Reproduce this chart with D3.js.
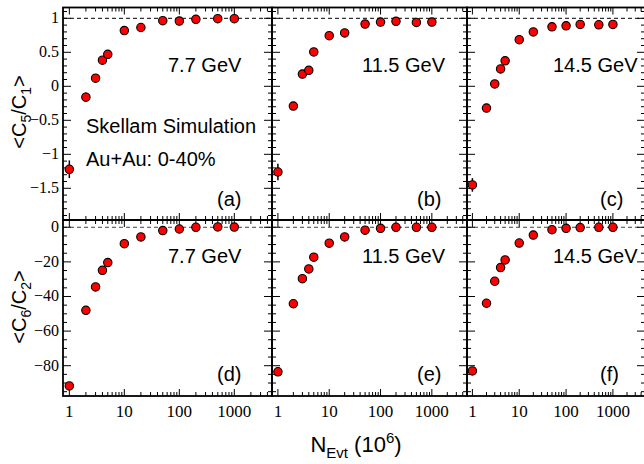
<!DOCTYPE html>
<html>
<head>
<meta charset="utf-8">
<script src="https://cdn.jsdelivr.net/npm/d3@7"></script>
<style>
  body { margin: 0; background: #fff; }
  svg { display: block; }
</style>
</head>
<body>
<svg id="chart" width="644" height="464"></svg>
<script>
// data
var nEvt = [1, 2, 3, 4, 5, 10, 20, 50, 100, 200, 500, 1000];
var energies = ["7.7 GeV", "11.5 GeV", "14.5 GeV"];
var panelTags = [["(a)", "(b)", "(c)"], ["(d)", "(e)", "(f)"]];

var c51_77  = [-1.22, -0.16, 0.12, 0.385, 0.47, 0.82, 0.865, 0.965, 0.96, 0.985, 0.995, 0.995];
var c51_115 = [-1.26, -0.29, 0.18, 0.235, 0.505, 0.745, 0.785, 0.915, 0.945, 0.955, 0.94, 0.945];
var c51_145 = [-1.45, -0.32, 0.035, 0.255, 0.375, 0.685, 0.80, 0.875, 0.89, 0.91, 0.905, 0.91];
var e51_77  = [0.13, 0.07, 0.05, 0.03, 0.03, 0.02, 0.015, 0.01, 0.01, 0.01, 0.01, 0.01];
var e51_115 = [0.12, 0.05, 0.03, 0.02, 0.02, 0.015, 0.01, 0.01, 0.01, 0.01, 0.01, 0.01];
var e51_145 = [0.1, 0.05, 0.03, 0.02, 0.02, 0.015, 0.01, 0.01, 0.01, 0.01, 0.01, 0.01];

var c62_77  = [-91.7, -48, -34.5, -24.9, -20.4, -9.5, -5.6, -1.9, -1.0, 0, 0.2, 0.1];
var c62_115 = [-83.5, -44.2, -29.7, -24.1, -17.3, -9.2, -5.6, -1.7, -0.6, 0, 0, 0];
var c62_145 = [-83, -43.9, -31.2, -23.3, -18.9, -9.1, -4.5, -1.4, -0.6, -0.2, 0, 0];
var e62_77  = [2, 1, 0.8, 0.6, 0.5, 0.3, 0.2, 0.1, 0.1, 0.1, 0.1, 0.1];
var e62_115 = [2, 1, 0.8, 0.6, 0.5, 0.3, 0.2, 0.1, 0.1, 0.1, 0.1, 0.1];
var e62_145 = [2, 1, 0.8, 0.6, 0.5, 0.3, 0.2, 0.1, 0.1, 0.1, 0.1, 0.1];

var yTicksTop = [-1.5, -1, -0.5, 0, 0.5, 1];
var yTicksBot = [-80, -60, -40, -20, 0];
var xTickLabels = [1, 10, 100, 1000];

var rowVals = [[c51_77, c51_115, c51_145], [c62_77, c62_115, c62_145]];
var rowErrs = [[e51_77, e51_115, e51_145], [e62_77, e62_115, e62_145]];
var refLine = [1, 0];

// layout
var cols = [[63, 272], [272, 467], [467, 645]];
var rows = [[7.5, 220], [220, 396]];
var xDom = [0.767, 4842];
var yDoms = [[-1.966, 1.159], [-97.5, 4.2]];
var yMinorStep = [0.1, 5];

var svg = d3.select("#chart");
svg.append("rect").attr("width", 644).attr("height", 464).attr("fill", "#fff");

var sans = "'Liberation Sans', Arial, Helvetica, sans-serif";
var serif = "'Liberation Serif', 'Times New Roman', serif";

function fmtY(v) {
  return (v < 0 ? "\u2212" : "") + Math.abs(v);
}

for (var r = 0; r < 2; r++) {
  for (var c = 0; c < 3; c++) {
    var x0 = cols[c][0], x1 = cols[c][1];
    var y0 = rows[r][0], y1 = rows[r][1];
    var x = d3.scaleLog().domain(xDom).range([x0, x1]);
    var y = d3.scaleLinear().domain(yDoms[r]).range([y1, y0]);
    var g = svg.append("g");

    // dashed reference line
    g.append("line")
      .attr("x1", x0).attr("x2", x1)
      .attr("y1", y(refLine[r])).attr("y2", y(refLine[r]))
      .attr("stroke", r == 0 ? "#000" : "#444")
      .attr("stroke-width", 1)
      .attr("stroke-dasharray", "4,3");

    // x ticks, top and bottom, pointing in
    var xt = [];
    for (var d = 0; d <= 3; d++) {
      for (var k = 1; k <= 9; k++) xt.push({v: k * Math.pow(10, d), major: k == 1});
    }
    xt.push({v: 10000, major: true});
    xt = xt.filter(function(t) { return t.v >= xDom[0] && t.v <= xDom[1]; });
    g.selectAll(null).data(xt).enter().append("line")
      .attr("x1", function(t) { return x(t.v); })
      .attr("x2", function(t) { return x(t.v); })
      .attr("y1", y1)
      .attr("y2", function(t) { return y1 - (t.major ? 7 : 4); })
      .attr("stroke", "#000").attr("stroke-width", 1);
    g.selectAll(null).data(xt).enter().append("line")
      .attr("x1", function(t) { return x(t.v); })
      .attr("x2", function(t) { return x(t.v); })
      .attr("y1", y0)
      .attr("y2", function(t) { return y0 + (t.major ? 7 : 4); })
      .attr("stroke", "#000").attr("stroke-width", 1);

    // y ticks, left and right
    var yMajor = r == 0 ? yTicksTop : yTicksBot;
    var yt = [];
    var st = yMinorStep[r];
    var first = Math.ceil(yDoms[r][0] / st), last = Math.floor(yDoms[r][1] / st);
    for (var i = first; i <= last; i++) {
      var v = +(i * st).toFixed(3);
      var isMajor = yMajor.some(function(m) { return Math.abs(m - v) < 1e-6; });
      yt.push({v: v, major: isMajor});
    }
    g.selectAll(null).data(yt).enter().append("line")
      .attr("x1", x0)
      .attr("x2", function(t) { return x0 + (t.major ? 8 : 4); })
      .attr("y1", function(t) { return y(t.v); })
      .attr("y2", function(t) { return y(t.v); })
      .attr("stroke", "#000").attr("stroke-width", 1);
    g.selectAll(null).data(yt).enter().append("line")
      .attr("x1", x1)
      .attr("x2", function(t) { return x1 - (t.major ? 8 : 4); })
      .attr("y1", function(t) { return y(t.v); })
      .attr("y2", function(t) { return y(t.v); })
      .attr("stroke", "#000").attr("stroke-width", 1);

    // frame
    g.append("rect")
      .attr("x", x0).attr("y", y0)
      .attr("width", x1 - x0).attr("height", y1 - y0)
      .attr("fill", "none").attr("stroke", "#000").attr("stroke-width", 1.8);

    // y tick labels only on the first column
    if (c == 0) {
      g.selectAll(null).data(yMajor).enter().append("text")
        .attr("x", x0 - 4)
        .attr("y", function(v) { return y(v) + 5; })
        .attr("text-anchor", "end")
        .attr("font-family", serif).attr("font-size", 16)
        .text(fmtY);
    }
    // x tick labels only on the bottom row
    if (r == 1) {
      g.selectAll(null).data(xTickLabels).enter().append("text")
        .attr("x", function(v) { return x(v); })
        .attr("y", 417)
        .attr("text-anchor", "middle")
        .attr("font-family", serif).attr("font-size", 17)
        .text(function(v) { return v; });
    }

    // points with error bars
    var pts = nEvt.map(function(n, i) {
      return {n: n, v: rowVals[r][c][i], e: rowErrs[r][c][i]};
    });
    g.selectAll(null).data(pts).enter().append("line")
      .attr("x1", function(p) { return x(p.n); })
      .attr("x2", function(p) { return x(p.n); })
      .attr("y1", function(p) { return y(p.v - p.e); })
      .attr("y2", function(p) { return y(p.v + p.e); })
      .attr("stroke", "#000").attr("stroke-width", 1.5);
    g.selectAll(null).data(pts).enter().append("circle")
      .attr("cx", function(p) { return x(p.n); })
      .attr("cy", function(p) { return y(p.v); })
      .attr("r", 4.2)
      .attr("fill", "#f00").attr("stroke", "#000").attr("stroke-width", 1.1);

    // energy label and panel tag
    var eX = [168, 362, 553][c];
    g.append("text")
      .attr("x", eX).attr("y", r == 0 ? 72 : 263)
      .attr("font-family", sans).attr("font-size", 20)
      .text(energies[c]);
    var tX = [217, 417, 600][c];
    g.append("text")
      .attr("x", tX).attr("y", r == 0 ? 206 : 381)
      .attr("font-family", sans).attr("font-size", 20)
      .text(panelTags[r][c]);
  }
}

// extra labels in panel (a)
svg.append("text").attr("x", 86).attr("y", 133)
  .attr("font-family", sans).attr("font-size", 20)
  .text("Skellam Simulation");
svg.append("text").attr("x", 86).attr("y", 166)
  .attr("font-family", sans).attr("font-size", 20)
  .text("Au+Au: 0-40%");

// axis titles
function yTitle(cy, a, b) {
  var t = svg.append("text")
    .attr("transform", "translate(26," + cy + ") rotate(-90)")
    .attr("text-anchor", "middle")
    .attr("font-family", sans).attr("font-size", 20);
  t.append("tspan").text("<C");
  t.append("tspan").attr("font-size", 14).attr("dy", 5).text(a);
  t.append("tspan").attr("dy", -5).text("/C");
  t.append("tspan").attr("font-size", 14).attr("dy", 5).text(b);
  t.append("tspan").attr("dy", -5).text(">");
}
yTitle(112, "5", "1");
yTitle(307, "6", "2");

var xt = svg.append("text")
  .attr("x", 356).attr("y", 452)
  .attr("text-anchor", "middle")
  .attr("font-family", sans).attr("font-size", 22);
xt.append("tspan").text("N");
xt.append("tspan").attr("font-size", 15).attr("dy", 6).text("Evt");
xt.append("tspan").attr("dy", -6).text(" (10");
xt.append("tspan").attr("font-size", 15).attr("dy", -9).text("6");
xt.append("tspan").attr("dy", 9).text(")");
</script>
</body>
</html>
